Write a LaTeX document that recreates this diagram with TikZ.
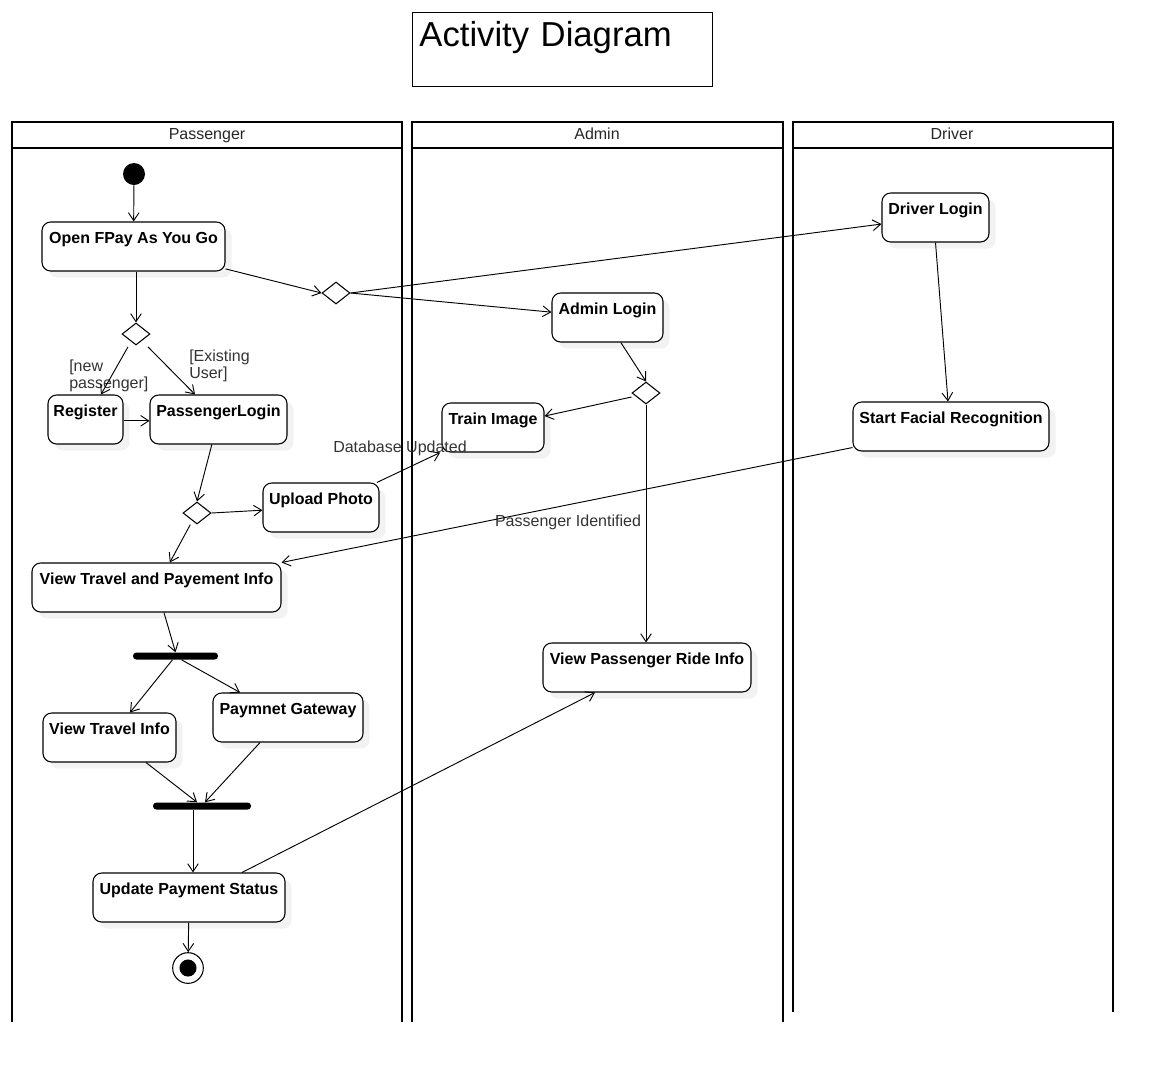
\documentclass[tikz,border=0pt]{standalone}
\usepackage{fontspec}
\setmainfont{Liberation Sans}
\usetikzlibrary{shapes.geometric,arrows.meta,shadows}

\begin{document}
\begin{tikzpicture}[
        x=0.75pt, y=-0.75pt,
        every node/.style={font=\fontsize{12}{13}\selectfont},
        act/.style={draw, line width=0.8pt, rounded corners=6.5pt, fill=white,
            font=\fontsize{12}{13}\selectfont\bfseries, inner xsep=2pt, inner ysep=0pt,
            text height=15.75pt, text depth=21pt,
            general shadow={fill=black!5, shadow xshift=5pt, shadow yshift=-5pt}},
        decision/.style={diamond, draw, line width=0.8pt, fill=white, inner sep=0pt,
            minimum width=21pt, minimum height=16.5pt},
        bar/.style={fill=black, rounded corners=2.5pt, inner sep=0pt, minimum height=5.25pt},
        flow/.style={line width=0.7pt, -{Straight Barb[length=6pt,width=8pt]}},
        lane/.style={line width=2.2pt},
        guard/.style={align=left, text=black!80, inner sep=0pt},
        lanetitle/.style={text=black!85, inner sep=0pt, anchor=base}
    ]
    \useasboundingbox (0,0) rectangle (1162,1072);

    % title box
    \node[draw, line width=0.6pt, anchor=north west, text width=214.5pt,
        inner xsep=5.25pt, inner ysep=0pt, text height=25.5pt, text depth=30pt,
        font=\fontsize{26}{28}\selectfont] (title) at (412,12) {Activity Diagram};

    % Passenger lane
    \draw[lane] (12,1022) -- (12,122) -- (402,122) -- (402,1022);
    \draw[lane] (12,148) -- (402,148);
    \node[lanetitle] (lanep) at (207,139.5) {Passenger};

    % Admin lane
    \draw[lane] (412,1022) -- (412,122) -- (783,122) -- (783,1022);
    \draw[lane] (412,148) -- (783,148);
    \node[lanetitle] (lanea) at (597,139.5) {Admin};

    % Driver lane
    \draw[lane] (793,1012) -- (793,122) -- (1113,122) -- (1113,1012);
    \draw[lane] (793,148) -- (1113,148);
    \node[lanetitle] (laned) at (952,139.5) {Driver};

    % passenger activities
    \node[circle, fill=black, minimum size=16.5pt, inner sep=0pt] (start) at (134,174) {};
    \node[act, minimum width=137.25pt] (open) at (133.5,246.5) {Open FPay As You Go};
    \node[decision] (dec1) at (136,334) {};
    \node[decision] (dec2) at (336,293) {};
    \node[act, minimum width=56.25pt] (register) at (85.5,419.5) {Register};
    \node[act, minimum width=102.75pt] (plogin) at (218.5,419.5) {PassengerLogin};
    \node[decision] (dec3) at (197,513) {};
    \node[act, minimum width=87pt] (upload) at (321,507.5) {Upload Photo};
    \node[act, minimum width=186.75pt] (viewtp) at (156.5,587.5) {View Travel and Payement Info};
    \node[bar, minimum width=63.75pt] (fork) at (175.5,656) {};
    \node[act, minimum width=99.75pt] (viewtravel) at (109.5,737.5) {View Travel Info};
    \node[act, minimum width=112.5pt] (gateway) at (288,717.5) {Paymnet Gateway};
    \node[bar, minimum width=73.5pt] (join) at (202,806) {};
    \node[act, minimum width=144pt] (update) at (189,897.5) {Update Payment Status};
    \node[circle, draw, line width=0.8pt, fill=white, minimum size=23pt, inner sep=0pt] (stop) at (188,968) {};
    \fill (stop) circle (6.4pt);

    % guards
    \node[guard, anchor=west] (gnew) at (69,376) {[new\\passenger]};
    \node[guard, anchor=west] (gexist) at (189,366) {[Existing\\User]};

    % admin activities
    \node[act, minimum width=83.25pt] (alogin) at (607.5,317.5) {Admin Login};
    \node[decision] (dec4) at (646,393) {};
    \node[act, minimum width=76.5pt] (train) at (493,427.5) {Train Image};
    \node[act, minimum width=156pt] (viewride) at (647,667.5) {View Passenger Ride Info};

    % driver activities
    \node[act, minimum width=80.25pt] (dlogin) at (935.5,217.5) {Driver Login};
    \node[act, minimum width=147pt] (facial) at (951,426.5) {Start Facial Recognition};

    % flow labels
    \node[guard] (dbupd) at (400,448) {Database Updated};
    \node[guard] (pident) at (568,522) {Passenger Identified};

    % flows
    \draw[flow] (start) -- (open);
    \draw[flow] (open.south -| dec1) -- (dec1.north);
    \draw[flow] ([yshift=2pt]open.south east) -- (dec2.west);
    \draw[flow] (dec2.east) -- ([yshift=-4.9pt]dlogin.west);
    \draw[flow] (dec2.east) -- ([yshift=4pt]alogin.west);
    \draw[flow] ([xshift=-6pt,yshift=-1pt]dec1.south) -- ([xshift=11.6pt]register.north);
    \draw[flow] ([xshift=9pt,yshift=-1pt]dec1.south) -- ([xshift=-17.6pt]plogin.north);
    \draw[flow] ([yshift=-1pt]register.east) -- ([yshift=-1pt]plogin.west);
    \draw[flow] ([xshift=-5pt]plogin.south) -- (dec3.north);
    \draw[flow] (dec3.east) -- ([yshift=-2pt]upload.west);
    \draw[flow] ([xshift=-5pt]dec3.south) -- ([xshift=10pt]viewtp.north);
    \draw[flow] ([xshift=-2pt]upload.north east) -- ([xshift=-1pt]train.south west);
    \draw[flow] ([xshift=10pt]alogin.south) -- (dec4.north);
    \draw[flow] ([yshift=-3pt]dec4.west) -- ([yshift=8.6pt]train.east);
    \draw[flow] (dec4.south) -- (dec4.south |- viewride.north);
    \draw[flow] (dlogin.south) -- ([xshift=-2.25pt]facial.north);
    \draw[flow] ([yshift=3pt]facial.south west) -- (viewtp.north east);
    \draw[flow] ([xshift=5.6pt]viewtp.south) -- (fork.north);
    \draw[flow] ([xshift=-2.25pt]fork.south) -- ([xshift=15.4pt]viewtravel.north);
    \draw[flow] ([xshift=4.5pt]fork.south) -- ([xshift=-36pt]gateway.north);
    \draw[flow] ([xshift=27.4pt]viewtravel.south) -- ([xshift=-3.75pt]join.north);
    \draw[flow] ([xshift=-21pt]gateway.south) -- ([xshift=2.25pt]join.north);
    \draw[flow] ([xshift=-6.75pt]join.south) -- ([xshift=3pt]update.north);
    \draw[flow] ([xshift=39.75pt]update.north) -- ([xshift=-39pt]viewride.south);
    \draw[flow] (update) -- (stop);
\end{tikzpicture}
\end{document}
